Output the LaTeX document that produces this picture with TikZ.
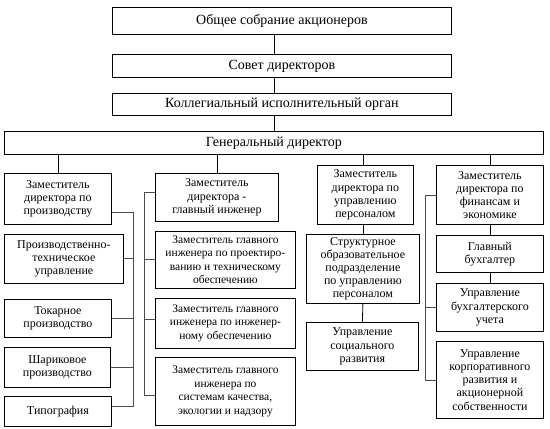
\documentclass[tikz,border=0pt]{standalone}
\usepackage{fontspec}
\setmainfont{Liberation Serif}
\usetikzlibrary{positioning}

\tikzset{
  unit/.style={draw, line width=0.8pt, align=center, inner sep=1pt,
    font=\fontsize{12}{13.2}\selectfont, anchor=north west},
  sub/.style={unit, font=\fontsize{11.5}{13.5}\selectfont},
  top/.style={unit, font=\fontsize{14}{16}\selectfont},
  bus/.style={line width=1pt, black!70},
  link/.style={line width=0.8pt}
}

\begin{document}
\begin{tikzpicture}[x=1pt,y=-1pt]
   \useasboundingbox (0,0) rectangle (550,429);
   % governing bodies
   \node [top, minimum width=339, minimum height=27] (osa) at (112,7) {Общее собрание акционеров};
   \node [top, minimum width=339, minimum height=23] (sd)  at (112,54) {Совет директоров};
   \node [top, minimum width=339, minimum height=22] (kio) at (112,93) {Коллегиальный исполнительный орган};
   \node [top, minimum width=539, minimum height=23] (gd)  at (4,131) {Генеральный директор};
   % production
   \node [unit, minimum width=107, minimum height=51] (z1)  at (4,173) {Заместитель\\директора по\\производству};
   \node [unit, minimum width=119, minimum height=49] (c1a) at (4,234) {Производственно-\\техническое\\управление};
   \node [unit, minimum width=107, minimum height=38] (c1b) at (4,299) {Токарное\\производство};
   \node [unit, minimum width=106, minimum height=40] (c1c) at (4,347) {Шариковое\\производство};
   \node [unit, minimum width=107, minimum height=30] (c1d) at (4,396) {Типография};
   % chief engineer
   \node [unit, minimum width=123, minimum height=48] (z2)  at (155,173) {Заместитель\\директора -\\главный инженер};
   \node [sub, minimum width=140, minimum height=57] (c2a) at (155,231) {Заместитель главного\\инженера по проектиро-\\ванию и техническому\\обеспечению};
   \node [sub, minimum width=140, minimum height=50] (c2b) at (155,298) {Заместитель главного\\инженера по инженер-\\ному обеспечению};
   \node [sub, minimum width=140, minimum height=68] (c2c) at (155,357) {Заместитель главного\\инженера по\\системам качества,\\экологии и надзору};
   % personnel
   \node [unit, minimum width=96, minimum height=59]  (z3)  at (317,165) {Заместитель\\директора по\\управлению\\персоналом};
   \node [unit, minimum width=113, minimum height=69] (c3a) at (306,234) {Структурное\\образовательное\\подразделение\\по управлению\\персоналом};
   \node [unit, minimum width=112, minimum height=48] (c3b) at (306,322) {Управление\\социального\\развития};
   % finance
   \node [unit, minimum width=107, minimum height=59] (z4)  at (436,165) {Заместитель\\директора по\\финансам и\\экономике};
   \node [unit, minimum width=107, minimum height=37] (c4a) at (436,235) {Главный\\бухгалтер};
   \node [unit, minimum width=107, minimum height=48] (c4b) at (436,283) {Управление\\бухгалтерского\\учета};
   \node [unit, minimum width=107, minimum height=77] (c4c) at (436,341) {Управление\\корпоративного\\развития и\\акционерной\\собственности};

   \path[link]
    (osa.south -| gd) edge (sd.north -| gd)
    (sd.south -| gd)  edge (kio.north -| gd)
    (kio.south -| gd) edge (gd.north)
    (gd.south -| z1)  edge (z1.north)
    (gd.south -| z2)  edge (z2.north)
    (gd.south -| c3a) edge (z3.north -| c3a)
    (z3.south -| c3a) edge (c3a.north)
    (c3a.south)       edge (c3b.north)
    (gd.south -| z4)  edge (z4.north)
    (z4.south)        edge (c4a.north)
    (c4a.south)       edge (c4b.north);

   % side buses
   \coordinate (b1t) at (133,212);
   \coordinate (b1b) at (133,406);
   \draw[bus] (z1.east |- b1t) -- (b1t) -- (b1b) -- (c1d.east |- b1b);
   \draw[bus] (c1a.east) -- (c1a.east -| b1t)
              (c1b.east) -- (c1b.east -| b1t)
              (c1c.east) -- (c1c.east -| b1t);
   \coordinate (b2t) at (144,192);
   \coordinate (b2m) at (144,319);
   \coordinate (b2b) at (144,395);
   \draw[bus] (z2.west |- b2t) -- (b2t) -- (b2b) -- (c2c.west |- b2b);
   \draw[bus] (c2a.west -| b2t) -- (c2a.west)
              (b2m) -- (b2m -| c2b.west);
   \coordinate (b4t) at (425,195);
   \coordinate (b4b) at (425,380);
   \draw[bus] (z4.west |- b4t) -- (b4t) -- (b4b) -- (c4c.west |- b4b);
   \draw[bus] (c4b.west -| b4t) -- (c4b.west);
\end{tikzpicture}
\end{document}
